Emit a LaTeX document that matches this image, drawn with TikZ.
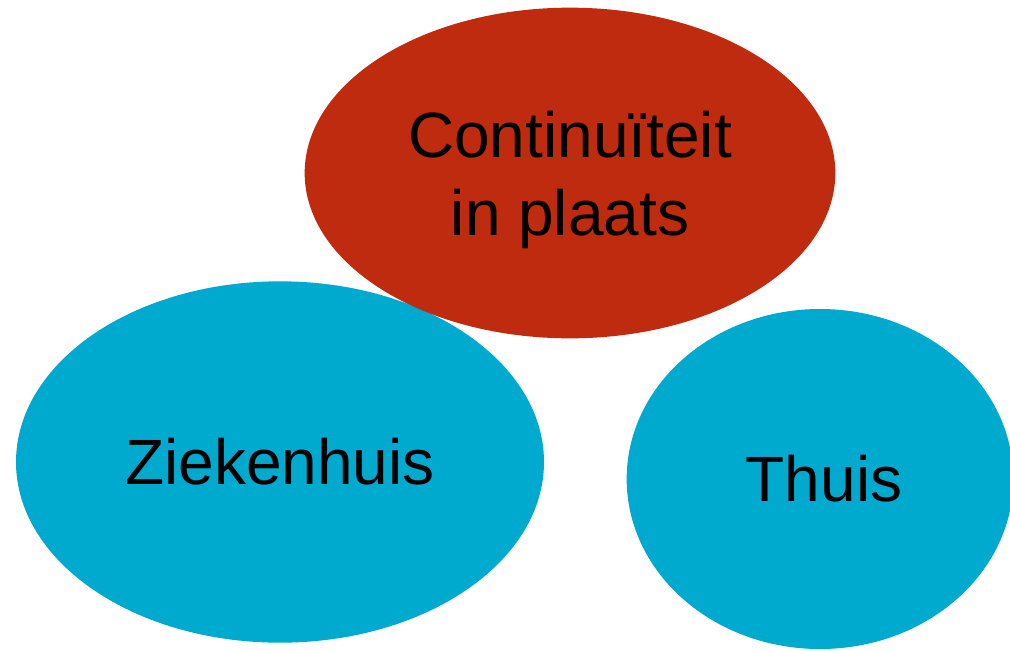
\documentclass[tikz,border=0pt]{standalone}
\usepackage{fontspec}
\setmainfont{Liberation Sans}
\usetikzlibrary{shapes.geometric}
\usepackage{xcolor}
\definecolor{placered}{RGB}{191,43,14}
\definecolor{placeblue}{RGB}{0,169,206}

\begin{document}
\begin{tikzpicture}[
            x=0.75pt, y=-0.75pt,
            every node/.style={font=\fontsize{48}{58.5}\selectfont, align=center, text=black},
            place/.style={ellipse, inner sep=0pt, fill=placeblue},
            core/.style={ellipse, inner sep=0pt, fill=placered}
        ]
            \useasboundingbox (0,0) rectangle (1010,650);
            \clip (0,0) rectangle (1010,650);

            \node[place, minimum width=396pt, minimum height=271pt] (zh) at (280,462) {Ziekenhuis};
            \node[place, minimum width=290pt, minimum height=255pt] (thuis) at (820,479) {};
            \node[xshift=3pt] (thuistxt) at (thuis) {Thuis};
            \node[core, minimum width=398pt, minimum height=248pt] (cont) at (570,173) {};
            \node[yshift=-5pt] (conttxt) at (cont) {Continuïteit\\in plaats};
        \end{tikzpicture}
\end{document}
